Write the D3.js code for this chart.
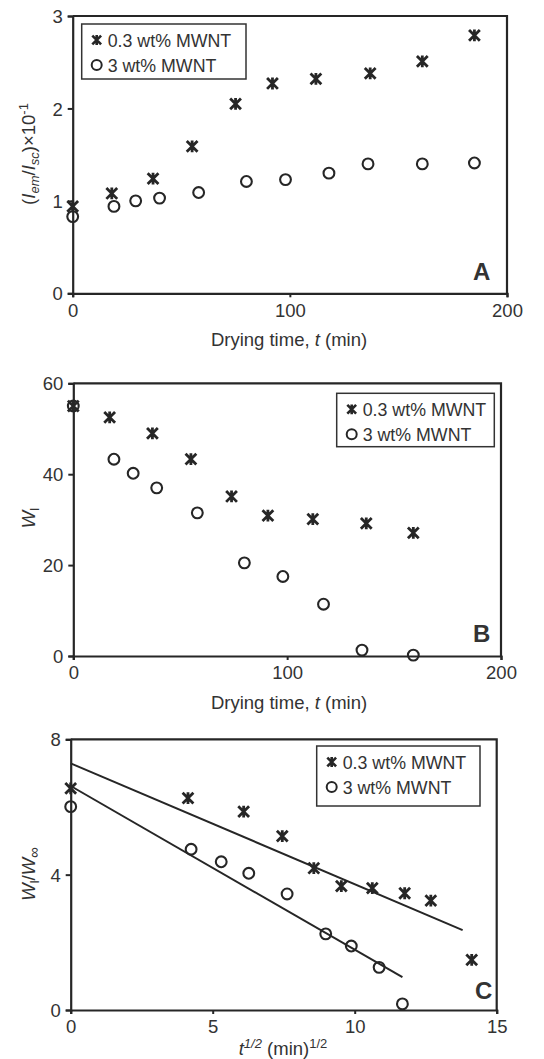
<!DOCTYPE html>
<html>
<head>
<meta charset="utf-8">
<script src="https://cdn.jsdelivr.net/npm/d3@7.9.0/dist/d3.min.js"></script>
<style>
  html, body { margin: 0; padding: 0; background: #fff; }
  svg { display: block; font-family: 'Liberation Sans', Arial, sans-serif; }
  text { fill: #333; }
</style>
</head>
<body>
<svg id="chart" width="544" height="1059"></svg>
<script>
// Panel A: (Iem/Isc) x10^-1 vs drying time
const timeA_low = [0, 18, 37, 55, 75, 92, 112, 137, 161, 185];
const ratioA_low = [0.94, 1.08, 1.24, 1.59, 2.05, 2.27, 2.32, 2.38, 2.51, 2.79];
const timeA_high = [0, 19, 29, 40, 58, 80, 98, 118, 136, 161, 185];
const ratioA_high = [0.83, 0.94, 1.0, 1.03, 1.09, 1.21, 1.23, 1.30, 1.40, 1.40, 1.41];

// Panel B: Wl vs drying time
const timeB_low = [0, 17, 37, 55, 74, 91, 112, 137, 159];
const wlB_low = [55, 52.5, 49, 43.3, 35.1, 30.9, 30.1, 29.2, 27.1];
const timeB_high = [0, 19, 28, 39, 58, 80, 98, 117, 135, 159];
const wlB_high = [55, 43.3, 40.2, 37, 31.5, 20.5, 17.5, 11.4, 1.3, 0.2];

// Panel C: Wl/Winf vs t^1/2
const sqrtC_low = [0, 4.13, 6.09, 7.45, 8.56, 9.53, 10.62, 11.76, 12.68, 14.12];
const wrC_low = [6.55, 6.26, 5.86, 5.14, 4.19, 3.66, 3.60, 3.45, 3.23, 1.48];
const sqrtC_high = [0, 4.24, 5.30, 6.27, 7.62, 8.98, 9.88, 10.86, 11.68];
const wrC_high = [6.01, 4.75, 4.38, 4.04, 3.43, 2.25, 1.89, 1.26, 0.18];
const fitC_low_x = [0, 13.8];
const fitC_low_y = [7.29, 2.36];
const fitC_high_x = [0, 11.68];
const fitC_high_y = [6.62, 0.97];

const legendLabels = ['0.3 wt% MWNT', '3 wt% MWNT'];

const svg = d3.select('#chart');
const ink = '#262626';
const fs = 18.5;

function starPath(s) {
  return `M${-s},${-s}L${s},${s}M${-s},${s}L${s},${-s}M0,${-s - 0.5}L0,${s + 0.5}`;
}

function drawStars(g, x, y, xs, ys) {
  g.selectAll(null)
    .data(xs.map((d, i) => [d, ys[i]]))
    .join('path')
    .attr('transform', (d) => `translate(${x(d[0])},${y(d[1])})`)
    .attr('d', starPath(5.4))
    .attr('stroke', ink)
    .attr('stroke-width', 2.8)
    .attr('fill', 'none');
}

function drawCircles(g, x, y, xs, ys) {
  g.selectAll(null)
    .data(xs.map((d, i) => [d, ys[i]]))
    .join('circle')
    .attr('cx', (d) => x(d[0]))
    .attr('cy', (d) => y(d[1]))
    .attr('r', 5.4)
    .attr('stroke', ink)
    .attr('stroke-width', 2.1)
    .attr('fill', 'none');
}

function drawFrame(g, x, y, xTicks, yTicks) {
  const [x0, x1] = x.range();
  const [y0, y1] = y.range();
  g.append('path')
    .attr('d', `M${x0},${y1}H${x1}V${y0}`)
    .attr('fill', 'none')
    .attr('stroke', ink)
    .attr('stroke-width', 2.2);

  const xa = g.append('g')
    .attr('transform', `translate(0,${y0})`)
    .call(d3.axisBottom(x).tickValues(xTicks).tickSize(4).tickPadding(6).tickFormat(d3.format('d')));
  const ya = g.append('g')
    .attr('transform', `translate(${x0},0)`)
    .call(d3.axisLeft(y).tickValues(yTicks).tickSize(5).tickPadding(5).tickFormat(d3.format('d')));
  [xa, ya].forEach((a) => {
    a.select('.domain').attr('stroke', ink).attr('stroke-width', 2.2);
    a.selectAll('.tick line').attr('stroke', ink).attr('stroke-width', 2);
    a.selectAll('.tick text').attr('fill', '#333').attr('font-size', fs)
      .attr('font-family', "'Liberation Sans', Arial, sans-serif");
  });
  ya.selectAll('.tick text').attr('dy', '0.36em');
  xa.selectAll('.tick text').attr('dy', '0.72em');
}

function drawLegend(g, bx, by, bw, bh) {
  g.append('rect')
    .attr('x', bx).attr('y', by).attr('width', bw).attr('height', bh)
    .attr('fill', '#fff').attr('stroke', '#333').attr('stroke-width', 1.5);
  const sx = bx + 15;
  g.append('path')
    .attr('transform', `translate(${sx},${by + 16})`)
    .attr('d', starPath(4.4))
    .attr('stroke', ink).attr('stroke-width', 2.6).attr('fill', 'none');
  g.append('circle')
    .attr('cx', sx).attr('cy', by + 41).attr('r', 5)
    .attr('stroke', ink).attr('stroke-width', 2).attr('fill', 'none');
  legendLabels.forEach((t, i) => {
    g.append('text')
      .attr('x', sx + 11)
      .attr('y', by + 22.5 + i * 25.5)
      .attr('font-size', 17.8)
      .text(t);
  });
}

function panelLetter(g, x, y, letter) {
  g.append('text')
    .attr('x', x).attr('y', y)
    .attr('font-size', 24).attr('font-weight', 'bold')
    .attr('fill', '#222')
    .text(letter);
}

// ---------- Panel A ----------
{
  const g = svg.append('g');
  const x = d3.scaleLinear().domain([0, 200]).range([72.7, 507]);
  const y = d3.scaleLinear().domain([0, 3]).range([293.3, 16]);
  drawFrame(g, x, y, [0, 100, 200], [0, 1, 2, 3]);
  drawCircles(g, x, y, timeA_high, ratioA_high);
  drawStars(g, x, y, timeA_low, ratioA_low);
  drawLegend(g, 81.7, 24, 164.3, 55);
  panelLetter(g, 473, 280, 'A');

  g.append('text')
    .attr('x', 289).attr('y', 346)
    .attr('text-anchor', 'middle').attr('font-size', fs)
    .call((t) => {
      t.append('tspan').text('Drying time, ');
      t.append('tspan').attr('font-style', 'italic').text('t');
      t.append('tspan').text(' (min)');
    });

  g.append('text')
    .attr('transform', 'translate(35,154) rotate(-90)')
    .attr('text-anchor', 'middle').attr('font-size', fs)
    .call((t) => {
      t.append('tspan').text('(');
      t.append('tspan').attr('font-style', 'italic').text('I');
      t.append('tspan').attr('font-style', 'italic').attr('font-size', 13).attr('dy', 4).text('em');
      t.append('tspan').attr('dy', -4).text('/');
      t.append('tspan').attr('font-style', 'italic').text('I');
      t.append('tspan').attr('font-style', 'italic').attr('font-size', 13).attr('dy', 4).text('sc');
      t.append('tspan').attr('dy', -4).text(')\u00d710');
      t.append('tspan').attr('font-size', 13).attr('dy', -7).text('-1');
    });
}

// ---------- Panel B ----------
{
  const g = svg.append('g');
  const x = d3.scaleLinear().domain([0, 200]).range([73.3, 501]);
  const y = d3.scaleLinear().domain([0, 60]).range([656, 383.3]);
  drawFrame(g, x, y, [0, 100, 200], [0, 20, 40, 60]);
  drawCircles(g, x, y, timeB_high, wlB_high);
  drawStars(g, x, y, timeB_low, wlB_low);
  drawLegend(g, 336.7, 393.3, 157.6, 53.4);
  panelLetter(g, 473, 641.7, 'B');

  g.append('text')
    .attr('x', 289).attr('y', 709)
    .attr('text-anchor', 'middle').attr('font-size', fs)
    .call((t) => {
      t.append('tspan').text('Drying time, ');
      t.append('tspan').attr('font-style', 'italic').text('t');
      t.append('tspan').text(' (min)');
    });

  g.append('text')
    .attr('transform', 'translate(35,518) rotate(-90)')
    .attr('text-anchor', 'middle').attr('font-size', fs)
    .call((t) => {
      t.append('tspan').attr('font-style', 'italic').text('W');
      t.append('tspan').attr('font-size', 13).attr('dy', 4).text('l');
    });
}

// ---------- Panel C ----------
{
  const g = svg.append('g');
  const x = d3.scaleLinear().domain([0, 15]).range([70.7, 496.7]);
  const y = d3.scaleLinear().domain([0, 8]).range([1010, 739.3]);
  drawFrame(g, x, y, [0, 5, 10, 15], [0, 4, 8]);

  const line = d3.line().x((d) => x(d[0])).y((d) => y(d[1]));
  [[fitC_low_x, fitC_low_y], [fitC_high_x, fitC_high_y]].forEach(([xs, ys]) => {
    g.append('path')
      .attr('d', line(xs.map((d, i) => [d, ys[i]])))
      .attr('fill', 'none').attr('stroke', ink).attr('stroke-width', 2);
  });

  drawCircles(g, x, y, sqrtC_high, wrC_high);
  drawStars(g, x, y, sqrtC_low, wrC_low);
  drawLegend(g, 316.7, 746, 163.3, 60);
  panelLetter(g, 475, 999, 'C');

  g.append('text')
    .attr('x', 283).attr('y', 1055)
    .attr('text-anchor', 'middle').attr('font-size', fs)
    .call((t) => {
      t.append('tspan').attr('font-style', 'italic').text('t');
      t.append('tspan').attr('font-style', 'italic').attr('font-size', 13).attr('dy', -7).text('1/2');
      t.append('tspan').attr('dy', 7).text(' (min)');
      t.append('tspan').attr('font-size', 13).attr('dy', -7).text('1/2');
    });

  g.append('text')
    .attr('transform', 'translate(35,874) rotate(-90)')
    .attr('text-anchor', 'middle').attr('font-size', fs)
    .call((t) => {
      t.append('tspan').attr('font-style', 'italic').text('W');
      t.append('tspan').attr('font-size', 13).attr('dy', 4).text('l');
      t.append('tspan').attr('dy', -4).text('/');
      t.append('tspan').attr('font-style', 'italic').text('W');
      t.append('tspan').attr('font-size', 15).attr('dy', 4).text('\u221e');
    });
}
</script>
</body>
</html>
